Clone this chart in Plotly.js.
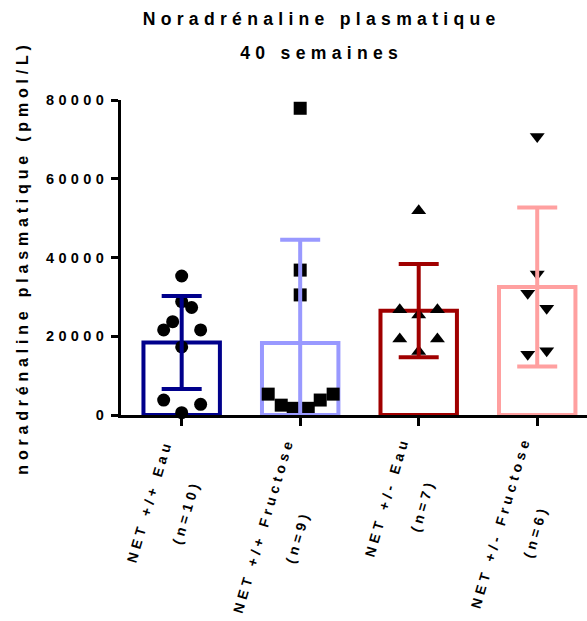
<!DOCTYPE html>
<html>
<head>
<meta charset="utf-8">
<script src="https://cdn.plot.ly/plotly-3.0.1.min.js"></script>
<style>
  html, body { margin: 0; padding: 0; background: #fff; }
  #chart { width: 587px; height: 621px; }
  svg text, svg tspan { letter-spacing: 0.3em; }
</style>
</head>
<body>
<div id="chart"></div>
<script>
// ---- data ----
const categories = ["NET +/+ Eau", "NET +/+ Fructose", "NET +/- Eau", "NET +/- Fructose"];
const groupSizes = ["(n=10)", "(n=9)", "(n=7)", "(n=6)"];
const barMeans = [18400, 18300, 26500, 32500];
const barSD = [11800, 26200, 11850, 20200];

const valsNetPPEau = [35300, 28800, 27300, 23700, 21600, 21600, 17300, 3800, 2700, 600];
const valsNetPPFructose = [77900, 36800, 30500, 5300, 2500, 1700, 1700, 3800, 5300];
const valsNetPMEau = [51900, 26700, 25400, 26700, 19300, 19300, 16100];
const valsNetPMFructose = [70700, 35800, 30900, 27100, 15400, 16300];

// horizontal scatter offsets of the dots (in category units)
const jitterNetPPEau = [0, 0, 0.084, -0.076, -0.152, 0.16, 0, -0.152, 0.16, 0];
const jitterNetPPFructose = [0, 0, 0, -0.27, -0.16, -0.059, 0.068, 0.169, 0.278];
const jitterNetPMEau = [0, -0.16, 0, 0.158, -0.16, 0.158, 0];
const jitterNetPMFructose = [0, 0, -0.08, 0.08, -0.08, 0.08];

const yTicks = [0, 20000, 40000, 60000, 80000];

// ---- styling ----
const colors = ["#00008b", "#9999ff", "#a00000", "#ffa0a0"];
const symbols = ["circle", "square", "triangle-up", "triangle-down"];
const groupVals = [valsNetPPEau, valsNetPPFructose, valsNetPMEau, valsNetPMFructose];
const groupJit = [jitterNetPPEau, jitterNetPPFructose, jitterNetPMEau, jitterNetPMFructose];
const FONT = "Liberation Sans, Arial, Helvetica, sans-serif";

const idx = categories.map((c, i) => i);
const traces = [];

traces.push({
  type: "bar",
  x: idx,
  y: barMeans,
  width: 0.645,
  marker: { color: "rgba(255,255,255,0)", line: { color: colors, width: 4 } },
  cliponaxis: false,
  hoverinfo: "skip",
  showlegend: false
});

groupVals.forEach((vals, g) => {
  traces.push({
    type: "scatter",
    mode: "markers",
    x: vals.map((v, k) => g + groupJit[g][k]),
    y: vals,
    marker: { symbol: symbols[g], size: 13, color: "#000" },
    cliponaxis: false,
    showlegend: false
  });
});

idx.forEach(g => {
  traces.push({
    type: "scatter",
    mode: "markers",
    x: [g],
    y: [barMeans[g]],
    marker: { size: 1, opacity: 0 },
    error_y: {
      type: "data", symmetric: false,
      array: [barSD[g]],
      arrayminus: [Math.min(barSD[g], barMeans[g])],
      color: colors[g], thickness: 4, width: 20
    },
    cliponaxis: false,
    showlegend: false
  });
});

// category labels as rotated two-line text
const line1Shift = [[-32.5, 85.8], [-36.7, 110], [-32.3, 81.5], [-37.2, 107.5]];
const line2Shift = [[4.1, 96.5], [-2.7, 121.7], [4, 90], [-2.2, 116.5]];
const annotations = [];
idx.forEach(g => {
  [[categories[g], line1Shift[g]], [groupSizes[g], line2Shift[g]]].forEach(([txt, sh]) => {
    annotations.push({
      xref: "x", yref: "paper", x: g, y: 0,
      xanchor: "center", yanchor: "middle",
      xshift: sh[0], yshift: -sh[1],
      text: txt, showarrow: false, textangle: -73.5,
      font: { family: FONT, size: 14, color: "#000", weight: 700 }
    });
  });
});

const layout = {
  width: 587, height: 621,
  margin: { l: 121, r: 0, t: 100, b: 206, pad: 0 },
  paper_bgcolor: "#fff", plot_bgcolor: "#fff",
  showlegend: false,
  title: {
    text: "<span style='font-size:17.6px'>Noradrénaline plasmatique</span><br><br><span style='font-size:17.6px'>40 semaines</span>",
    font: { family: FONT, size: 13.2, color: "#000", weight: 700 },
    x: 0.548, xref: "container", xanchor: "center",
    y: 1 - 25 / 621, yanchor: "top", yref: "container"
  },
  xaxis: {
    range: [-0.512, 3.42],
    showgrid: false, zeroline: false,
    showline: true, linecolor: "#000", linewidth: 3,
    tickmode: "array", tickvals: idx, ticktext: idx.map(() => ""),
    ticks: "outside", ticklen: 8, tickwidth: 3, tickcolor: "#000",
    fixedrange: true
  },
  yaxis: {
    range: [0, 80000],
    showgrid: false, zeroline: false,
    showline: true, linecolor: "#000", linewidth: 3,
    tickmode: "array", tickvals: yTicks, ticktext: yTicks.map(String),
    ticks: "outside", ticklen: 7, tickwidth: 3, tickcolor: "#000",
    tickfont: { family: FONT, size: 14.5, color: "#000", weight: 700 },
    title: {
      text: "noradrénaline plasmatique (pmol/L)",
      font: { family: FONT, size: 16, color: "#000", weight: 700 },
      standoff: 14
    },
    fixedrange: true
  },
  annotations: annotations
};

Plotly.newPlot("chart", traces, layout, { displayModeBar: false, staticPlot: true });
</script>
</body>
</html>
